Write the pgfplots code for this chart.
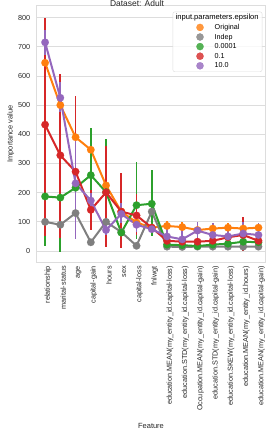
\documentclass[border=0pt]{standalone}
\usepackage{pgfplots}
\usepackage{pgfplotstable}
\pgfplotsset{compat=1.18}
\usepackage{fontspec}
\setmainfont{Liberation Sans}
\definecolor{cOrig}{HTML}{FF7F0E}
\definecolor{cIndep}{HTML}{7F7F7F}
\definecolor{cGreen}{HTML}{2CA02C}
\definecolor{cRed}{HTML}{D62728}
\definecolor{cPurple}{HTML}{9467BD}
\definecolor{gridc}{HTML}{DDDDDD}
\definecolor{txtc}{HTML}{262626}

\pgfplotstableread{
x y lo hi
0 645 615 672
1 500 478 522
2 390 370 412
3 347 335 362
4 225 212 240
5 135 124 148
6 98 86 110
7 80 68 94
8 86 68 104
9 82 66 98
10 72 58 88
11 77 62 92
12 80 66 96
13 77 62 92
14 80 64 96
}\tOrig
\pgfplotstableread{
x y lo hi
0 100 90 110
1 90 80 100
2 130 118 142
3 30 22 38
4 100 90 110
5 65 55 75
6 18 12 26
7 135 122 148
8 15 8 22
9 14 8 20
10 15 9 21
11 15 9 21
12 15 9 21
13 15 9 21
14 15 9 21
}\tIndep
\pgfplotstableread{
x y lo hi
0 187 17 355
1 183 -2 370
2 217 40 378
3 260 130 422
4 202 15 385
5 63 45 82
6 157 40 305
7 162 50 278
8 22 12 35
9 20 10 30
10 17 8 28
11 22 12 33
12 25 14 36
13 32 20 45
14 30 18 42
}\tGreen
\pgfplotstableread{
x y lo hi
0 433 50 797
1 328 45 605
2 272 45 530
3 141 72 210
4 201 15 360
5 135 10 268
6 122 55 195
7 80 70 92
8 35 10 60
9 32 5 60
10 32 8 58
11 35 12 60
12 47 25 72
13 55 0 118
14 35 5 62
}\tRed
\pgfplotstableread{
x y lo hi
0 715 672 758
1 525 475 578
2 232 40 390
3 173 150 198
4 72 55 90
5 127 95 165
6 90 65 118
7 75 65 87
8 50 12 90
9 40 5 78
10 70 40 100
11 55 22 95
12 50 15 88
13 60 22 100
14 55 12 95
}\tPurple

\pgfplotsset{
  legmark/.style={only marks, mark=*, mark size=3.6bp, mark options={draw=#1, fill=#1, line width=0.1bp},
    legend image code/.code={\path (0bp,0bp) (38bp,0bp);
      \draw[##1, mark repeat=2, mark phase=2] plot coordinates {(0bp,0bp) (24bp,0bp) (38bp,0bp)};}},
  ser/.style={color=#1, line width=2bp, mark=*, mark size=3.8bp,
    mark options={solid, draw=#1, fill=#1, line width=0.1bp}, forget plot},
}

\begin{document}
\begin{tikzpicture}
\useasboundingbox (-36.7bp,-176.3bp) rectangle (237.3bp,262.7bp);
\begin{axis}[
  at={(0,0)}, anchor=south west,
  scale only axis, width=228.6bp, height=257.7bp,
  xmin=-0.55, xmax=14.45, ymin=-40, ymax=843,
  xtick={0,...,14},
  xticklabels={relationship,marital-status,age,capital-gain,hours,sex,capital-loss,fnlwgt,
    education.MEAN(my\_entity\_id.capital-loss),
    education.STD(my\_entity\_id.capital-loss),
    Occupation.MEAN(my\_entity\_id.capital-gain),
    education.STD(my\_entity\_id.capital-gain),
    education.SKEW(my\_entity\_id.capital-loss),
    education.MEAN(my\_entity\_id.hours),
    education.MEAN(my\_entity\_id.capital-gain)},
  ytick={0,100,...,800},
  ymajorgrids, xmajorgrids=false,
  grid style={color=gridc, line width=0.8bp},
  axis line style={color=gridc, line width=0.8bp},
  major tick length=0pt,
  /pgf/number format/assume math mode=true,
  tick label style={font=\fontsize{7.3}{8}\selectfont, color=txtc},
  xticklabel style={rotate=90, anchor=east, yshift=-3bp},
  yticklabel style={xshift=-3bp},
  title={Dataset: Adult},
  title style={at={(axis description cs:0.4388,1)}, anchor=north, yshift=-1.5bp, font=\fontsize{8.5}{9}\selectfont, color=txtc, inner sep=0pt},
  xlabel={Feature},
  xlabel style={at={(axis description cs:0.5,0)}, anchor=center, yshift=-163bp, font=\fontsize{7.5}{8}\selectfont, color=txtc},
  ylabel={Importance value},
  ylabel style={at={([xshift=-26bp]axis description cs:0,0.5)}, anchor=center, font=\fontsize{7.5}{8}\selectfont, color=txtc},
  legend style={at={(rel axis cs:0.987,0.974)}, anchor=north east,
    font=\fontsize{7.2}{8}\selectfont, draw=gridc, rounded corners=2bp,
    fill=white, fill opacity=0.8, text opacity=1, inner xsep=3bp, inner ysep=1.5bp,
    row sep=0.8bp,
    nodes={inner sep=0.5bp, text height=6bp, text depth=1.8bp}},
  legend cell align=left,
  error bars/y dir=both, error bars/y explicit,
  error bars/error mark=none,
  error bars/error bar style={line width=1.7bp},
]
\addlegendimage{empty legend}
\addlegendentry{\hspace*{-39bp}\fontsize{7.6}{8}\selectfont input.parameters.epsilon}
\addlegendimage{legmark=cOrig}
\addlegendentry{Original}
\addlegendimage{legmark=cIndep}
\addlegendentry{Indep}
\addlegendimage{legmark=cGreen}
\addlegendentry{0.0001}
\addlegendimage{legmark=cRed}
\addlegendentry{0.1}
\addlegendimage{legmark=cPurple}
\addlegendentry{10.0}

\addplot[ser=cOrig] table[x=x, y=y, y error plus expr=\thisrow{hi}-\thisrow{y}, y error minus expr=\thisrow{y}-\thisrow{lo}] {\tOrig};
\addplot[ser=cIndep] table[x=x, y=y, y error plus expr=\thisrow{hi}-\thisrow{y}, y error minus expr=\thisrow{y}-\thisrow{lo}] {\tIndep};
\addplot[ser=cGreen] table[x=x, y=y, y error plus expr=\thisrow{hi}-\thisrow{y}, y error minus expr=\thisrow{y}-\thisrow{lo}] {\tGreen};
\addplot[ser=cRed] table[x=x, y=y, y error plus expr=\thisrow{hi}-\thisrow{y}, y error minus expr=\thisrow{y}-\thisrow{lo}] {\tRed};
\addplot[ser=cPurple] table[x=x, y=y, y error plus expr=\thisrow{hi}-\thisrow{y}, y error minus expr=\thisrow{y}-\thisrow{lo}] {\tPurple};
\end{axis}
\end{tikzpicture}
\end{document}
